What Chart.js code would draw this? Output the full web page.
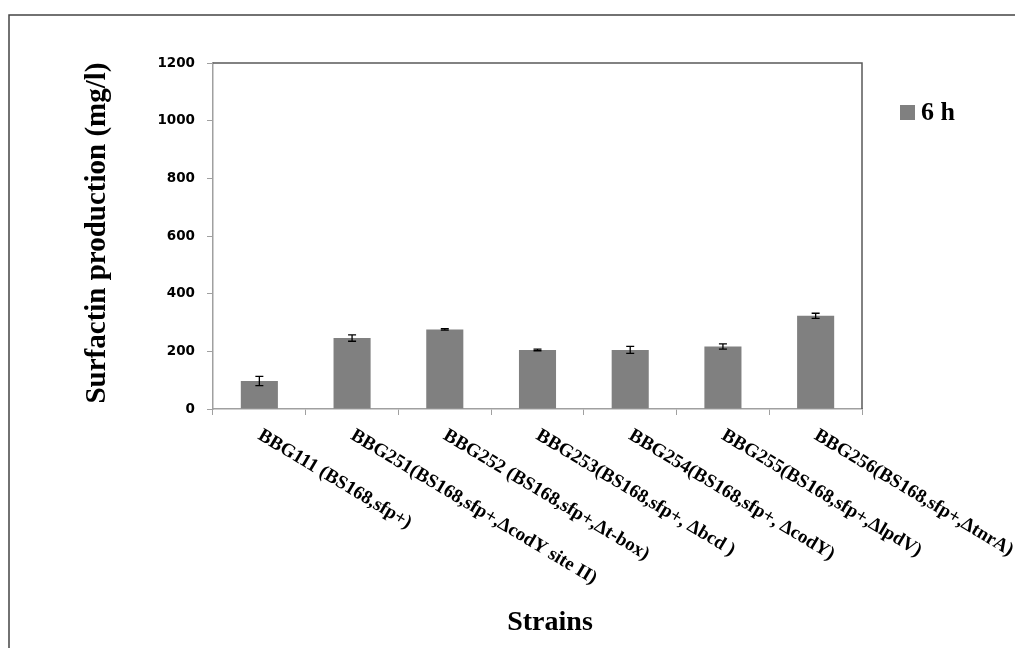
<!DOCTYPE html>
<html>
<head>
<meta charset="utf-8">
<script src="https://cdn.jsdelivr.net/npm/chart.js@4.4.1/dist/chart.umd.min.js"></script>
<style>
html,body{margin:0;padding:0;background:#fff;}
#wrap{width:1015px;height:648px;position:relative;}
</style>
</head>
<body>
<div id="wrap"><canvas id="c" width="1015" height="648"></canvas></div>
<script>
const categories = [
  "BBG111 (BS168,sfp+)",
  "BBG251(BS168,sfp+,\u0394codY site II)",
  "BBG252 (BS168,sfp+,\u0394t-box)",
  "BBG253(BS168,sfp+, \u0394bcd )",
  "BBG254(BS168,sfp+, \u0394codY)",
  "BBG255(BS168,sfp+,\u0394lpdV)",
  "BBG256(BS168,sfp+,\u0394tnrA)"
];
const seriesName = "6 h";
const values = [97, 246, 276, 205, 205, 217, 323];
const errors = [16, 11, 2.5, 3, 12, 9, 9];
const yTicks = [0, 200, 400, 600, 800, 1000, 1200];
const yTitle = "Surfactin production (mg/l)";
const xTitle = "Strains";

const serif = '"Liberation Serif","Times New Roman",serif';

const decor = {
  id: 'decor',
  beforeDraw(chart) {
    const ctx = chart.ctx;
    ctx.save();
    ctx.fillStyle = '#fff';
    ctx.fillRect(0, 0, chart.width, chart.height);
    ctx.restore();
  },
  afterDatasetsDraw(chart) {
    const ctx = chart.ctx;
    const ys = chart.scales.y;
    const meta = chart.getDatasetMeta(0);
    ctx.save();
    ctx.strokeStyle = '#000';
    ctx.lineWidth = 1.3;
    meta.data.forEach((bar, i) => {
      const x = bar.x;
      const yTop = ys.getPixelForValue(values[i] + errors[i]);
      const yBot = ys.getPixelForValue(values[i] - errors[i]);
      ctx.beginPath();
      ctx.moveTo(x, yTop); ctx.lineTo(x, yBot);
      ctx.moveTo(x - 4, yTop); ctx.lineTo(x + 4, yTop);
      ctx.moveTo(x - 4, yBot); ctx.lineTo(x + 4, yBot);
      ctx.stroke();
    });
    ctx.restore();
  },
  afterDraw(chart) {
    const ctx = chart.ctx;
    const a = chart.chartArea;
    const xs = chart.scales.x;
    ctx.save();
    // plot frame top & right
    ctx.strokeStyle = '#5a5a5a';
    ctx.lineWidth = 1.5;
    ctx.beginPath();
    ctx.moveTo(a.left, a.top);
    ctx.lineTo(a.right, a.top);
    ctx.lineTo(a.right, a.bottom);
    ctx.stroke();
    // outer border
    ctx.strokeStyle = '#444';
    ctx.lineWidth = 1.5;
    ctx.strokeRect(9, 15, 1200, 1000);
    // x labels rotated
    ctx.fillStyle = '#000';
    ctx.font = 'bold 19px ' + serif;
    ctx.textAlign = 'left';
    ctx.textBaseline = 'top';
    const ang = 31 * Math.PI / 180;
    categories.forEach((lab, i) => {
      const cx = xs.getPixelForValue(i);
      ctx.save();
      ctx.translate(cx + 5, a.bottom + 17);
      ctx.rotate(ang);
      ctx.fillText(lab, 0, 0);
      ctx.restore();
    });
    // y title
    ctx.save();
    ctx.font = 'bold 29px ' + serif;
    ctx.textAlign = 'center';
    ctx.textBaseline = 'middle';
    ctx.translate(98, 233);
    ctx.rotate(-Math.PI / 2);
    ctx.fillText(yTitle, 0, 0);
    ctx.restore();
    // x title
    ctx.font = 'bold 28px ' + serif;
    ctx.textAlign = 'center';
    ctx.textBaseline = 'alphabetic';
    ctx.fillText(xTitle, 550, 630);
    // legend
    ctx.fillStyle = '#808080';
    ctx.fillRect(900, 105, 15, 15);
    ctx.fillStyle = '#000';
    ctx.font = 'bold 26px ' + serif;
    ctx.textAlign = 'left';
    ctx.fillText(seriesName, 921, 120);
    ctx.restore();
  }
};

new Chart(document.getElementById('c'), {
  type: 'bar',
  data: {
    labels: categories,
    datasets: [{
      label: seriesName,
      data: values,
      backgroundColor: '#808080',
      borderWidth: 0,
      barPercentage: 0.4,
      categoryPercentage: 1.0
    }]
  },
  options: {
    responsive: false,
    animation: false,
    devicePixelRatio: 1,
    layout: { padding: { top: 63, right: 153, left: 0, bottom: 0 } },
    plugins: { legend: { display: false }, tooltip: { enabled: false } },
    scales: {
      x: {
        offset: true,
        grid: { display: true, offset: true, drawOnChartArea: false, drawTicks: true, tickLength: 6, color: '#a0a0a0', lineWidth: 1 },
        border: { display: true, color: '#a0a0a0', width: 1.5 },
        ticks: { display: false },
        afterFit(scale) { scale.height = 239; }
      },
      y: {
        min: 0, max: 1200,
        afterBuildTicks(scale) { scale.ticks = yTicks.map(v => ({ value: v })); },
        grid: { display: true, drawOnChartArea: false, drawTicks: true, tickLength: 6, color: '#a0a0a0', lineWidth: 1 },
        border: { display: true, color: '#a0a0a0', width: 1.5 },
        ticks: {
          padding: 12,
          color: '#000',
          font: { family: '"DejaVu Sans"', weight: 'bold', size: 13.5 },
          callback: (v) => String(v)
        },
        afterFit(scale) { scale.width = 213; }
      }
    }
  },
  plugins: [decor]
});
</script>
</body>
</html>
